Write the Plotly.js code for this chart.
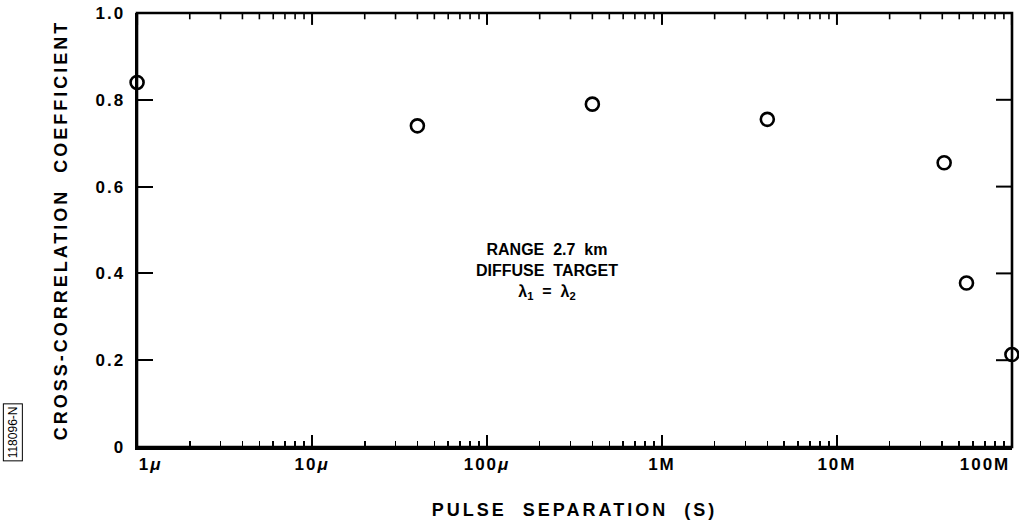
<!DOCTYPE html>
<html>
<head>
<meta charset="utf-8">
<script src="https://cdn.plot.ly/plotly-3.0.1.min.js"></script>
<style>
html,body{margin:0;padding:0;background:#fff;overflow:hidden;}
#chart{width:1019px;height:524px;}
.xtick text, .ytick text{letter-spacing:2px;}
.g-xtitle text, .g-ytitle text{letter-spacing:3px;}
</style>
</head>
<body>
<div id="chart"></div>
<script>
// Data
const pulseSeparation = [1e-6, 4e-5, 4e-4, 4e-3, 4.1e-2, 5.5e-2, 1e-1];
const crossCorrelation = [0.84, 0.74, 0.79, 0.755, 0.655, 0.378, 0.213];

const xMajorVals = [1e-6, 1e-5, 1e-4, 1e-3, 1e-2, 1e-1];
const xMajorText = ['\u00a0\u00a0\u00a0\u00a01<i>μ</i>', '10<i>μ</i>', '100<i>μ</i>', '1M', '10M', '100M\u00a0\u00a0\u00a0\u00a0\u00a0\u00a0\u00a0\u00a0'];
const yTickVals = [0, 0.2, 0.4, 0.6, 0.8, 1.0];
const yTickText = ['0', '0.2', '0.4', '0.6', '0.8', '1.0'];

const xMinorVals = [];
for (let d = -6; d < -1; d++) {
  for (let m = 2; m <= 9; m++) xMinorVals.push(m * Math.pow(10, d));
}

const fam = 'Liberation Sans, Arial, sans-serif';
const xRange = [-6.0005, -0.9995];
const yRange = [0, 1.0];

const traces = [
  {
    x: pulseSeparation, y: crossCorrelation,
    type: 'scatter', mode: 'markers',
    marker: {symbol: 'circle-open', size: 13, color: '#000', line: {width: 2.6, color: '#000'}},
    cliponaxis: false, hoverinfo: 'x+y', showlegend: false
  },
  // Mirrored tick marks along the top edge (clipped half of a vertical line marker)
  {
    x: xMajorVals, y: xMajorVals.map(() => yRange[1]),
    type: 'scatter', mode: 'markers', cliponaxis: true,
    marker: {symbol: 'line-ns-open', size: 17, color: '#000', line: {width: 2, color: '#000'}},
    hoverinfo: 'skip', showlegend: false
  },
  {
    x: xMinorVals, y: xMinorVals.map(() => yRange[1]),
    type: 'scatter', mode: 'markers', cliponaxis: true,
    marker: {symbol: 'line-ns-open', size: 9, color: '#000', line: {width: 1.6, color: '#000'}},
    hoverinfo: 'skip', showlegend: false
  }
];

const rightTickShapes = yTickVals.map(v => ({type: 'line', xref: 'paper', yref: 'y', x0: 1, x1: 1 - 16/875, y0: v, y1: v, line: {color: '#000', width: 2}}));

const layout = {
  width: 1019, height: 524,
  margin: {l: 137, r: 7, t: 13, b: 77},
  paper_bgcolor: '#fff', plot_bgcolor: '#fff',
  font: {family: fam, color: '#000'},
  xaxis: {
    type: 'log', range: xRange, automargin: false,
    tickmode: 'array', tickvals: xMajorVals, ticktext: xMajorText,
    ticks: 'inside', ticklen: 12, tickwidth: 2, tickcolor: '#000',
    minor: {tickmode: 'array', tickvals: xMinorVals, ticks: 'inside', ticklen: 6, tickwidth: 1.6, tickcolor: '#000', showgrid: false},
    showline: true, linewidth: 2.5, linecolor: '#000',
    showgrid: false, zeroline: false, ticklabeloverflow: 'allow',
    tickfont: {family: fam, size: 17, color: '#000', weight: 'bold'},
    title: {text: 'PULSE  SEPARATION  (S)', standoff: 31,
            font: {family: fam, size: 18, color: '#000', weight: 'bold'}}
  },
  yaxis: {
    range: yRange, automargin: false,
    tickmode: 'array', tickvals: yTickVals, ticktext: yTickText,
    ticks: 'inside', ticklen: 16, tickwidth: 2, tickcolor: '#000',
    showline: true, linewidth: 2.5, linecolor: '#000',
    showgrid: false, zeroline: false, ticklabelstandoff: 6, ticklabeloverflow: 'allow',
    tickfont: {family: fam, size: 17, color: '#000', weight: 'bold'},
    title: {text: 'CROSS-CORRELATION  COEFFICIENT', standoff: 23,
            font: {family: fam, size: 18, color: '#000', weight: 'bold'}}
  },
  shapes: [
    {type: 'rect', xref: 'paper', yref: 'paper', x0: 0, x1: 1, y0: 0, y1: 1, line: {color: '#000', width: 2.6}, fillcolor: 'rgba(0,0,0,0)', layer: 'above'}
  ].concat(rightTickShapes),
  annotations: [
    {
      xref: 'paper', yref: 'paper', x: 0.468, y: 0.405, xanchor: 'center', yanchor: 'middle',
      showarrow: false, align: 'center',
      text: 'RANGE  2.7  km<br>DIFFUSE  TARGET<br>λ<sub>1</sub>  =  λ<sub>2</sub>',
      font: {family: fam, size: 16, color: '#000', weight: 'bold'}
    },
    {
      xref: 'paper', yref: 'paper', x: -0.1416, y: 0.034, xanchor: 'center', yanchor: 'middle',
      showarrow: false, textangle: -90,
      text: '118096-N', bordercolor: '#000', borderwidth: 1, borderpad: 2,
      font: {family: fam, size: 12, color: '#000'}
    }
  ]
};

Plotly.newPlot('chart', traces, layout, {displayModeBar: false, staticPlot: true});
</script>
</body>
</html>
